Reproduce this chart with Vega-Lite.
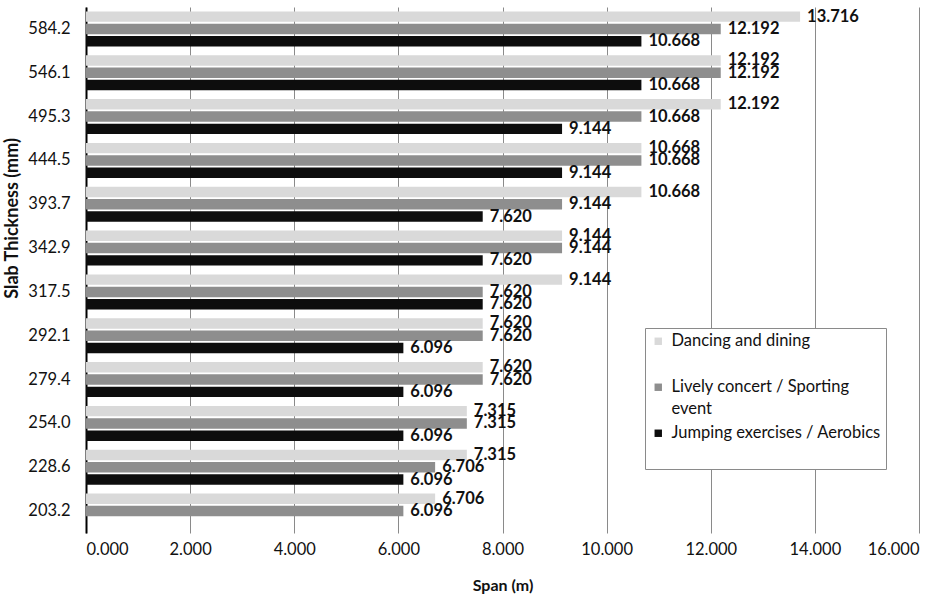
{
  "$schema": "https://vega.github.io/schema/vega-lite/v6.json",
  "width": 833,
  "height": 526,
  "autosize": {"type": "none"},
  "padding": {"left": 86, "top": 7, "right": 30, "bottom": 64},
  "background": "white",
  "config": {
    "view": {"stroke": null},
    "font": "Lato"
  },
  "data": {
    "values": [
      {"thickness": "584.2", "use": "Dancing and dining", "span": 13.716},
      {"thickness": "584.2", "use": "Lively concert / Sporting event", "span": 12.192},
      {"thickness": "584.2", "use": "Jumping exercises / Aerobics", "span": 10.668},
      {"thickness": "546.1", "use": "Dancing and dining", "span": 12.192},
      {"thickness": "546.1", "use": "Lively concert / Sporting event", "span": 12.192},
      {"thickness": "546.1", "use": "Jumping exercises / Aerobics", "span": 10.668},
      {"thickness": "495.3", "use": "Dancing and dining", "span": 12.192},
      {"thickness": "495.3", "use": "Lively concert / Sporting event", "span": 10.668},
      {"thickness": "495.3", "use": "Jumping exercises / Aerobics", "span": 9.144},
      {"thickness": "444.5", "use": "Dancing and dining", "span": 10.668},
      {"thickness": "444.5", "use": "Lively concert / Sporting event", "span": 10.668},
      {"thickness": "444.5", "use": "Jumping exercises / Aerobics", "span": 9.144},
      {"thickness": "393.7", "use": "Dancing and dining", "span": 10.668},
      {"thickness": "393.7", "use": "Lively concert / Sporting event", "span": 9.144},
      {"thickness": "393.7", "use": "Jumping exercises / Aerobics", "span": 7.62},
      {"thickness": "342.9", "use": "Dancing and dining", "span": 9.144},
      {"thickness": "342.9", "use": "Lively concert / Sporting event", "span": 9.144},
      {"thickness": "342.9", "use": "Jumping exercises / Aerobics", "span": 7.62},
      {"thickness": "317.5", "use": "Dancing and dining", "span": 9.144},
      {"thickness": "317.5", "use": "Lively concert / Sporting event", "span": 7.62},
      {"thickness": "317.5", "use": "Jumping exercises / Aerobics", "span": 7.62},
      {"thickness": "292.1", "use": "Dancing and dining", "span": 7.62},
      {"thickness": "292.1", "use": "Lively concert / Sporting event", "span": 7.62},
      {"thickness": "292.1", "use": "Jumping exercises / Aerobics", "span": 6.096},
      {"thickness": "279.4", "use": "Dancing and dining", "span": 7.62},
      {"thickness": "279.4", "use": "Lively concert / Sporting event", "span": 7.62},
      {"thickness": "279.4", "use": "Jumping exercises / Aerobics", "span": 6.096},
      {"thickness": "254.0", "use": "Dancing and dining", "span": 7.315},
      {"thickness": "254.0", "use": "Lively concert / Sporting event", "span": 7.315},
      {"thickness": "254.0", "use": "Jumping exercises / Aerobics", "span": 6.096},
      {"thickness": "228.6", "use": "Dancing and dining", "span": 7.315},
      {"thickness": "228.6", "use": "Lively concert / Sporting event", "span": 6.706},
      {"thickness": "228.6", "use": "Jumping exercises / Aerobics", "span": 6.096},
      {"thickness": "203.2", "use": "Dancing and dining", "span": 6.706},
      {"thickness": "203.2", "use": "Lively concert / Sporting event", "span": 6.096}
    ]
  },
  "encoding": {
    "y": {
      "field": "thickness",
      "type": "ordinal",
      "sort": ["584.2", "546.1", "495.3", "444.5", "393.7", "342.9", "317.5", "292.1", "279.4", "254.0", "228.6", "203.2"],
      "scale": {"paddingInner": 0.2, "paddingOuter": 0.1},
      "axis": {
        "title": "Slab Thickness (mm)",
        "titleFont": "Lato",
        "titleFontSize": 18,
        "titleFontWeight": "bold",
        "titleColor": "#111",
        "titleX": -74,
        "titleY": 211,
        "titleBaseline": "middle",
        "titleAlign": "center",
        "labelFont": "Lato",
        "labelFontSize": 16.5,
        "labelColor": "#111",
        "labelPadding": 16,
        "ticks": false,
        "domainColor": "#000",
        "domainWidth": 2
      }
    },
    "yOffset": {
      "field": "use",
      "type": "nominal",
      "sort": ["Dancing and dining", "Lively concert / Sporting event", "Jumping exercises / Aerobics"],
      "scale": {"paddingInner": 0.15}
    },
    "x": {
      "field": "span",
      "type": "quantitative",
      "scale": {"domain": [0, 16], "nice": false},
      "axis": {
        "title": "Span (m)",
        "titleFont": "Lato",
        "titleFontSize": 16,
        "titleFontWeight": "bold",
        "titleColor": "#111",
        "titlePadding": 20,
        "values": [0, 2, 4, 6, 8, 10, 12, 14, 16],
        "format": ".3f",
        "labelFont": "Lato",
        "labelFontSize": 16.5,
        "labelColor": "#111",
        "labelPadding": 8,
        "ticks": false,
        "domain": false,
        "grid": true,
        "gridColor": "#8a8a8a",
        "gridWidth": 1
      }
    }
  },
  "layer": [
    {
      "mark": {"type": "bar"},
      "encoding": {
        "color": {
          "field": "use",
          "type": "nominal",
          "scale": {
            "domain": ["Dancing and dining", "Lively concert / Sporting event", "Jumping exercises / Aerobics"],
            "range": ["#d9d9d9", "#8e8e8e", "#0d0d0d"]
          },
          "legend": {
            "title": null,
            "orient": "none",
            "legendX": 559,
            "legendY": 321,
            "direction": "vertical",
            "fillColor": "white",
            "strokeColor": "#8a8a8a",
            "padding": 5,
            "symbolType": "square",
            "symbolSize": 55,
            "symbolStrokeWidth": 0,
            "labelFont": "Lato",
            "labelFontSize": 16.5,
            "labelColor": "#111",
            "labelLimit": 320,
            "labelOffset": 5,
            "rowPadding": 7,
            "labelExpr": "datum.label == 'Lively concert / Sporting event' ? ['Lively concert / Sporting', 'event'] : [datum.label, '']",
            "encode": {
              "labels": {"update": {"lineHeight": {"value": 22}}}
            }
          }
        }
      }
    },
    {
      "mark": {
        "type": "text",
        "align": "left",
        "baseline": "middle",
        "dx": 7,
        "font": "Lato",
        "fontSize": 16.5,
        "fontWeight": "bold",
        "color": "#111"
      },
      "encoding": {
        "text": {"field": "span", "type": "quantitative", "format": ".3f"}
      }
    }
  ]
}
